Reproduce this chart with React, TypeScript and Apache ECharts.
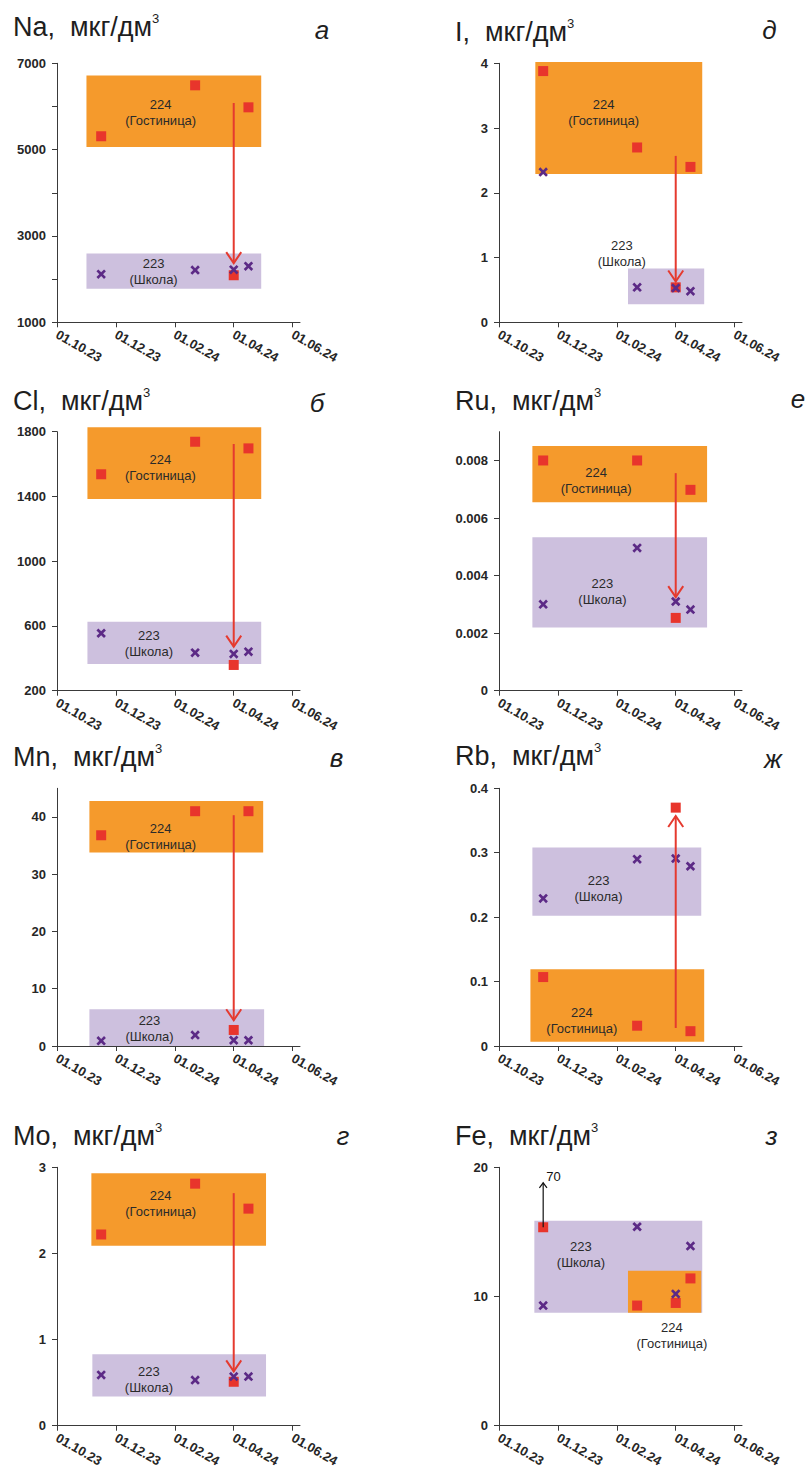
import React, { useEffect, useRef } from 'react';
import * as echarts from 'echarts';

// Sampling dates shared by both wells
const SAMPLE_DATES = ['2023-11-16', '2024-02-21', '2024-04-01', '2024-04-16'];
const DATE_TICK_LABELS = ['01.10.23', '01.12.23', '01.02.24', '01.04.24', '01.06.24'];
const DATE_TICK_MONTHS = [0, 2, 4, 6, 8];
const SHIFT_DATE = '2024-04-01';

// Concentrations, мкг/дм³ — well 224 (Гостиница) and well 223 (Школа)
const NA_224 = [5310, 6490, 2090, 5980];
const NA_223 = [2115, 2210, 2220, 2300];
const CL_224 = [1537, 1738, 359, 1697];
const CL_223 = [555, 435, 427, 441];
const MN_224 = [36.8, 41.0, 2.8, 41.0];
const MN_223 = [0.9, 1.9, 1.0, 1.0];
const MO_224 = [2.22, 2.81, 0.51, 2.52];
const MO_223 = [0.59, 0.53, 0.57, 0.57];
const I_224 = [3.88, 2.7, 0.54, 2.4];
const I_223 = [2.32, 0.54, 0.53, 0.48];
const RU_224 = [0.008, 0.008, 0.00253, 0.00698];
const RU_223 = [0.003, 0.00496, 0.0031, 0.00282];
const RB_224 = [0.107, 0.0315, 0.37, 0.023];
const RB_223 = [0.229, 0.29, 0.291, 0.279];
const FE_224 = [70, 9.3, 9.5, 11.4];
const FE_223 = [9.3, 15.4, 10.2, 13.9];

// Usual range of each well: [from date, to date, low, high]
type Band = [string, string, number, number];
const NA_BAND_224: Band = ['2023-11-01', '2024-04-29', 5060, 6720];
const NA_BAND_223: Band = ['2023-11-01', '2024-04-29', 1775, 2595];
const CL_BAND_224: Band = ['2023-11-02', '2024-04-29', 1384, 1827];
const CL_BAND_223: Band = ['2023-11-02', '2024-04-29', 365, 626];
const MN_BAND_224: Band = ['2023-11-04', '2024-05-01', 33.8, 42.8];
const MN_BAND_223: Band = ['2023-11-04', '2024-05-02', 0, 6.4];
const MO_BAND_224: Band = ['2023-11-06', '2024-05-04', 2.09, 2.93];
const MO_BAND_223: Band = ['2023-11-07', '2024-05-04', 0.34, 0.83];
const I_BAND_224: Band = ['2023-11-08', '2024-04-28', 2.29, 4.02];
const I_BAND_223: Band = ['2024-02-12', '2024-04-30', 0.28, 0.83];
const RU_BAND_224: Band = ['2023-11-05', '2024-05-03', 0.00655, 0.0085];
const RU_BAND_223: Band = ['2023-11-05', '2024-05-03', 0.0022, 0.00533];
const RB_BAND_224: Band = ['2023-11-03', '2024-04-30', 0.0067, 0.119];
const RB_BAND_223: Band = ['2023-11-05', '2024-04-27', 0.202, 0.308];
const FE_BAND_224: Band = ['2024-02-12', '2024-04-27', 8.75, 12.0];
const FE_BAND_223: Band = ['2023-11-07', '2024-04-28', 8.75, 15.87];

// Y axis ticks
const NA_TICKS = [1000, 2000, 3000, 4000, 5000, 6000, 7000];
const NA_LABELS = [1000, 3000, 5000, 7000];
const CL_TICKS = [200, 600, 1000, 1400, 1800];
const MN_TICKS = [0, 10, 20, 30, 40];
const MO_TICKS = [0, 1, 2, 3];
const I_TICKS = [0, 1, 2, 3, 4];
const RU_TICKS = [0, 0.002, 0.004, 0.006, 0.008];
const RB_TICKS = [0, 0.1, 0.2, 0.3, 0.4];
const FE_TICKS = [0, 10, 20];

const LABEL_224 = '224\n(Гостиница)';
const LABEL_223 = '223\n(Школа)';

const FONT = '"Liberation Sans", Arial, sans-serif';
const C_HOTEL = '#F59A2C';
const C_SCHOOL = '#CDC0DE';
const C_SQUARE = '#E8352C';
const C_CROSS = '#5C2A86';
const C_ARROW = '#E53A2F';
const C_AXIS = '#3a3a3a';
const C_TEXT = '#1e1e1e';

const CROSS_SYMBOL = 'path://M2,0 L5,3 L8,0 L10,2 L7,5 L10,8 L8,10 L5,7 L2,10 L0,8 L3,5 L0,2 Z';

// position on the date axis, in months after 01.10.23
function monthPos(date: string): number {
  const [y, m, d] = date.split('-').map(Number);
  const daysInMonth = new Date(y, m, 0).getDate();
  return (y - 2023) * 12 + (m - 10) + (d - 1) / daysInMonth;
}

type Panel = {
  element: string;
  letter: string;
  col: number;
  row: number;
  hotel: number[];
  school: number[];
  hotelBand: Band;
  schoolBand: Band;
  yMin: number;
  yMax: number;
  ticks: number[];
  labels?: number[];
  fmt?: (v: number) => string;
  hotelLabelAt: [number, number];
  schoolLabelAt: [number, number];
  shift?: [number, number];
  offScale?: { cap: number; tip: number };
  titleBaseline: number;
  letterX: number;
  letterBaseline: number;
};

const fixed = (digits: number) => (v: number) => (v === 0 ? '0' : v.toFixed(digits));

const PANELS: Panel[] = [
  {
    element: 'Na', letter: 'а', col: 0, row: 0, hotel: NA_224, school: NA_223,
    hotelBand: NA_BAND_224, schoolBand: NA_BAND_223, yMin: 1000, yMax: 7000,
    ticks: NA_TICKS, labels: NA_LABELS,
    hotelLabelAt: [3.52, 5867], schoolLabelAt: [3.28, 2184], shift: [6080, 2370],
    titleBaseline: 36.5, letterX: 322, letterBaseline: 39,
  },
  {
    element: 'Cl', letter: 'б', col: 0, row: 1, hotel: CL_224, school: CL_223,
    hotelBand: CL_BAND_224, schoolBand: CL_BAND_223, yMin: 200, yMax: 1800,
    ticks: CL_TICKS,
    hotelLabelAt: [3.51, 1579], schoolLabelAt: [3.12, 490], shift: [1724, 472],
    titleBaseline: 410, letterX: 317, letterBaseline: 411.5,
  },
  {
    element: 'Mn', letter: 'в', col: 0, row: 2, hotel: MN_224, school: MN_223,
    hotelBand: MN_BAND_224, schoolBand: MN_BAND_223, yMin: 0, yMax: 45,
    ticks: MN_TICKS,
    hotelLabelAt: [3.52, 36.5], schoolLabelAt: [3.14, 3.0], shift: [40.3, 4.5],
    titleBaseline: 766, letterX: 336.5, letterBaseline: 767.3,
  },
  {
    element: 'Mo', letter: 'г', col: 0, row: 3, hotel: MO_224, school: MO_223,
    hotelBand: MO_BAND_224, schoolBand: MO_BAND_223, yMin: 0, yMax: 3,
    ticks: MO_TICKS,
    hotelLabelAt: [3.52, 2.585], schoolLabelAt: [3.12, 0.533], shift: [2.7, 0.63],
    titleBaseline: 1145, letterX: 343, letterBaseline: 1145,
  },
  {
    element: 'I', letter: 'д', col: 1, row: 0, hotel: I_224, school: I_223,
    hotelBand: I_BAND_224, schoolBand: I_BAND_223, yMin: 0, yMax: 4,
    ticks: I_TICKS,
    hotelLabelAt: [3.55, 3.245], schoolLabelAt: [4.17, 1.06], shift: [2.57, 0.63],
    titleBaseline: 41.7, letterX: 769.5, letterBaseline: 39.3,
  },
  {
    element: 'Ru', letter: 'е', col: 1, row: 1, hotel: RU_224, school: RU_223,
    hotelBand: RU_BAND_224, schoolBand: RU_BAND_223, yMin: 0, yMax: 0.009,
    ticks: RU_TICKS, fmt: fixed(3),
    hotelLabelAt: [3.3, 0.00729], schoolLabelAt: [3.51, 0.00345], shift: [0.00756, 0.00325],
    titleBaseline: 410, letterX: 798, letterBaseline: 408,
  },
  {
    element: 'Rb', letter: 'ж', col: 1, row: 2, hotel: RB_224, school: RB_223,
    hotelBand: RB_BAND_224, schoolBand: RB_BAND_223, yMin: 0, yMax: 0.4,
    ticks: RB_TICKS, fmt: fixed(1),
    hotelLabelAt: [2.81, 0.039], schoolLabelAt: [3.38, 0.245], shift: [0.028, 0.357],
    titleBaseline: 765, letterX: 773, letterBaseline: 768.3,
  },
  {
    element: 'Fe', letter: 'з', col: 1, row: 3, hotel: FE_224, school: FE_223,
    hotelBand: FE_BAND_224, schoolBand: FE_BAND_223, yMin: 0, yMax: 20,
    ticks: FE_TICKS,
    hotelLabelAt: [5.87, 7.0], schoolLabelAt: [2.78, 13.24],
    offScale: { cap: 15.36, tip: 18.8 },
    titleBaseline: 1145, letterX: 771.5, letterBaseline: 1145,
  },
];

// Layout of the 2 x 4 panel grid, in pixels
const COL_LEFT = [57, 499];
const TITLE_LEFT = [13, 455];
const GRID_WIDTH = 243;
const ROW_TOP = [63.3, 431.7, 788.3, 1167.3];
const ROW_BOTTOM = [322.3, 690.7, 1046, 1425.7];
const X_MAX = 8.25;

function buildOption() {
  const grid: any[] = [];
  const xAxis: any[] = [];
  const yAxis: any[] = [];
  const series: any[] = [];
  const graphic: any[] = [];

  PANELS.forEach((p, i) => {
    const top = ROW_TOP[p.row];
    grid.push({
      left: COL_LEFT[p.col], top, width: GRID_WIDTH, height: ROW_BOTTOM[p.row] - top,
      containLabel: false, outerBoundsMode: 'none',
    });

    xAxis.push({
      gridIndex: i, type: 'value', min: 0, max: X_MAX,
      axisLine: { show: true, onZero: false, lineStyle: { color: C_AXIS, width: 1 } },
      axisTick: { show: true, length: 5, customValues: DATE_TICK_MONTHS, lineStyle: { color: C_AXIS } },
      axisLabel: {
        show: true, customValues: DATE_TICK_MONTHS, rotate: -30, margin: 11,
        formatter: (v: number) => DATE_TICK_LABELS[DATE_TICK_MONTHS.indexOf(v)] ?? '',
        fontFamily: FONT, fontSize: 13, fontWeight: 'bold', color: '#262626',
      },
      splitLine: { show: false },
    });

    const fmt = p.fmt ?? ((v: number) => String(v));
    yAxis.push({
      gridIndex: i, type: 'value', min: p.yMin, max: p.yMax,
      axisLine: { show: true, onZero: false, lineStyle: { color: C_AXIS, width: 1 } },
      axisTick: { show: true, length: 5, customValues: p.ticks, lineStyle: { color: C_AXIS } },
      axisLabel: {
        show: true, customValues: p.labels ?? p.ticks, margin: 11,
        formatter: fmt,
        fontFamily: FONT, fontSize: 13, fontWeight: 'bold', color: '#262626',
      },
      splitLine: { show: false },
    });

    // well ranges (school first, hotel drawn above it)
    const bands = [p.schoolBand, p.hotelBand];
    const bandColors = [C_SCHOOL, C_HOTEL];
    series.push({
      type: 'custom', xAxisIndex: i, yAxisIndex: i, clip: false, silent: true, z: 1,
      data: bands.map((b) => [monthPos(b[0]), monthPos(b[1]), b[2], b[3]]),
      encode: { x: [0, 1], y: [2, 3] },
      renderItem: (params: any, api: any) => {
        const tl = api.coord([api.value(0), api.value(3)]);
        const br = api.coord([api.value(1), api.value(2)]);
        return {
          type: 'rect',
          shape: { x: tl[0], y: tl[1], width: br[0] - tl[0], height: br[1] - tl[1] },
          style: { fill: bandColors[params.dataIndex] },
        };
      },
    });

    // well names
    const names = [LABEL_224, LABEL_223];
    series.push({
      type: 'custom', xAxisIndex: i, yAxisIndex: i, clip: false, silent: true, z: 2,
      data: [p.hotelLabelAt, p.schoolLabelAt],
      encode: { x: 0, y: 1 },
      renderItem: (params: any, api: any) => {
        const pt = api.coord([api.value(0), api.value(1)]);
        return {
          type: 'text', x: pt[0], y: pt[1],
          style: {
            text: names[params.dataIndex], align: 'center', verticalAlign: 'middle',
            fontFamily: FONT, fontSize: 13, lineHeight: 16, fill: '#2a2a2a',
          },
        };
      },
    });

    const shown = (v: number) => (v > p.yMax && p.offScale ? p.offScale.cap : v);

    series.push({
      type: 'scatter', xAxisIndex: i, yAxisIndex: i, z: 3, silent: true,
      symbol: 'rect', symbolSize: 10,
      itemStyle: { color: C_SQUARE, opacity: 1 },
      data: SAMPLE_DATES.map((d, k) => [monthPos(d), shown(p.hotel[k])]),
    });

    series.push({
      type: 'scatter', xAxisIndex: i, yAxisIndex: i, z: 4, silent: true,
      symbol: CROSS_SYMBOL, symbolSize: 9.5,
      itemStyle: { color: C_CROSS, opacity: 1 },
      data: SAMPLE_DATES.map((d, k) => [monthPos(d), shown(p.school[k])]),
    });

    // arrows: the 224 shift on 01.04.24, and the off-scale value marker
    const arrows: { x: number; from: number; to: number; color: string; width: number; hw: number; hh: number; note?: string }[] = [];
    if (p.shift) {
      arrows.push({ x: monthPos(SHIFT_DATE), from: p.shift[0], to: p.shift[1], color: C_ARROW, width: 2, hw: 7.5, hh: 11 });
    }
    if (p.offScale) {
      p.hotel.forEach((v, k) => {
        if (v > p.yMax && p.offScale) {
          arrows.push({
            x: monthPos(SAMPLE_DATES[k]), from: p.offScale.cap, to: p.offScale.tip,
            color: '#111', width: 1.2, hw: 3.8, hh: 5, note: String(v),
          });
        }
      });
    }
    if (arrows.length) {
      series.push({
        type: 'custom', xAxisIndex: i, yAxisIndex: i, clip: false, silent: true, z: 5,
        data: arrows.map((a) => [a.x, a.from, a.to]),
        encode: { x: 0, y: [1, 2] },
        renderItem: (params: any, api: any) => {
          const a = arrows[params.dataIndex];
          const p0 = api.coord([api.value(0), api.value(1)]);
          const p1 = api.coord([api.value(0), api.value(2)]);
          const dir = p1[1] > p0[1] ? 1 : -1;
          const children: any[] = [
            {
              type: 'line',
              shape: { x1: p0[0], y1: p0[1], x2: p1[0], y2: p1[1] },
              style: { stroke: a.color, lineWidth: a.width },
            },
            {
              type: 'polyline',
              shape: {
                points: [
                  [p1[0] - a.hw, p1[1] - dir * a.hh],
                  [p1[0], p1[1]],
                  [p1[0] + a.hw, p1[1] - dir * a.hh],
                ],
              },
              style: { stroke: a.color, lineWidth: a.width, fill: null, lineJoin: 'miter' },
            },
          ];
          if (a.note) {
            children.push({
              type: 'text', x: p1[0] + 3, y: p1[1] - 6,
              style: { text: a.note, align: 'left', verticalAlign: 'middle', fontFamily: FONT, fontSize: 13, fill: '#111' },
            });
          }
          return { type: 'group', children };
        },
      });
    }

    // panel title with superscript, and the panel letter
    graphic.push({
      type: 'text', x: TITLE_LEFT[p.col], y: p.titleBaseline - 24.4, silent: true,
      style: {
        text: `{m|${p.element},  мкг/дм}{s|3}`,
        align: 'left', verticalAlign: 'top',
        rich: {
          m: { fontFamily: FONT, fontSize: 27, lineHeight: 30, fill: C_TEXT },
          s: { fontFamily: FONT, fontSize: 13, lineHeight: 13, verticalAlign: 'top', fill: C_TEXT },
        },
      },
    });
    graphic.push({
      type: 'text', x: p.letterX, y: p.letterBaseline - 9, silent: true,
      style: {
        text: p.letter, align: 'center', verticalAlign: 'middle',
        fontFamily: FONT, fontSize: 26, fontStyle: 'italic', fill: C_TEXT,
      },
    });
  });

  return {
    animation: false,
    backgroundColor: '#ffffff',
    grid, xAxis, yAxis, series, graphic,
  };
}

export default function App() {
  const ref = useRef<HTMLDivElement>(null);

  useEffect(() => {
    if (!ref.current) return;
    const chart = echarts.init(ref.current, null, { renderer: 'svg' });
    chart.setOption(buildOption() as any);
    return () => chart.dispose();
  }, []);

  return (
    <div
      ref={ref}
      style={{ position: 'absolute', left: 0, top: 0, width: 807, height: 1470, background: '#fff' }}
    />
  );
}
